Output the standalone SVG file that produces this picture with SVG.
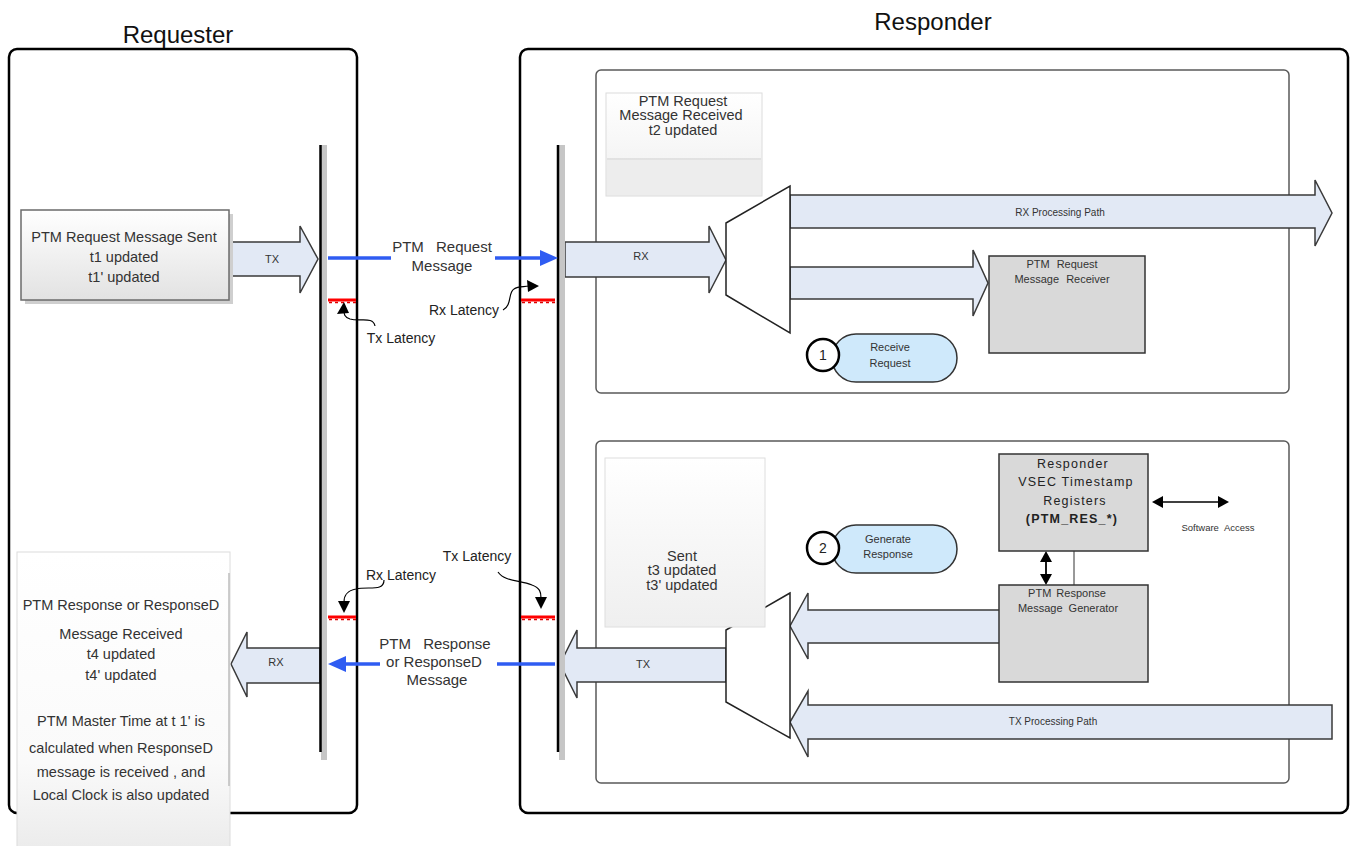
<svg xmlns="http://www.w3.org/2000/svg" width="1351" height="846" viewBox="0 0 1351 846">
<defs>
<linearGradient id="gSent" x1="0" y1="0" x2="0" y2="1"><stop offset="0" stop-color="#ffffff"/><stop offset="1" stop-color="#e2e2e2"/></linearGradient>
<linearGradient id="gLight" x1="0" y1="0" x2="0" y2="1"><stop offset="0" stop-color="#ffffff"/><stop offset="1" stop-color="#efefef"/></linearGradient>
<linearGradient id="gLeft" x1="0" y1="0" x2="0" y2="1"><stop offset="0" stop-color="#ffffff"/><stop offset="0.7" stop-color="#fafafa"/><stop offset="1" stop-color="#ebebeb"/></linearGradient>
</defs>
<style>
text{font-family:"Liberation Sans",Arial,sans-serif;fill:#222;text-anchor:middle}
.title{font-size:24px;fill:#111}
.big{font-size:15px;fill:#333}
.lab{font-size:14.5px;fill:#333}
.lat{font-size:14px;fill:#222}
.sm{font-size:11px;fill:#333}
.xs{font-size:10px;fill:#333}
.reg{font-size:12.5px;fill:#222;letter-spacing:1.2px}
.outer{fill:none;stroke:#000;stroke-width:2.5}
.inner{fill:none;stroke:#595959;stroke-width:1.5}
.fat{fill:#e2e9f5;stroke:#3a3a3a;stroke-width:1.5}
.grey{fill:#d9d9d9;stroke:#333;stroke-width:1.5}
.pill{fill:#cfe9fb;stroke:#333;stroke-width:1.5}
.num{fill:#fff;stroke:#000;stroke-width:2.5}
.blue{stroke:#2f5cf2;stroke-width:3.5;fill:none}
.red{stroke:#ff0000;stroke-width:3}
.redd{stroke:#e00000;stroke-width:1.5;stroke-dasharray:3 3}
.curve{fill:none;stroke:#000;stroke-width:1.2}
.bar{fill:#c6c6c6}
.barl{stroke:#000;stroke-width:2.5}
</style>

<g id="requester">
<rect class="outer" x="9" y="49" width="348" height="764" rx="8"/>
<text class="title" x="178" y="43">Requester</text>
</g>
<g id="responder">
<rect class="outer" x="520" y="49" width="828" height="764" rx="8"/>
<text class="title" x="933" y="30">Responder</text>
</g>
<g id="rx-section">
<rect class="inner" x="596" y="70" width="693" height="323" rx="5"/>
</g>
<g id="tx-section">
<rect class="inner" x="596" y="441" width="693" height="342" rx="5"/>
</g>

<g id="connectors">
<polygon class="fat" points="229,242 300,242 300,226 318,259 300,293 300,276 229,276"/>
<text class="sm" x="272" y="263">TX</text>
<polygon class="fat" points="565,242 709,242 709,226 726,260 709,293 709,277 565,277"/>
<text class="sm" x="641" y="260">RX</text>
<polygon class="fat" points="790,195 1315,195 1315,180 1332,213 1315,246 1315,228 790,228"/>
<text class="xs" x="1060" y="216">RX Processing  Path</text>
<polygon class="fat" points="790,267 973,267 973,250 988,283 973,316 973,299 790,299"/>
<polygon class="fat" points="726,648 577,648 577,630 560,664 577,698 577,682 726,682"/>
<text class="sm" x="643" y="668">TX</text>
<polygon class="fat" points="1000,610 808,610 808,593 790,626 808,659 808,643 1000,643"/>
<polygon class="fat" points="1332,705 808,705 808,691 790,722 808,757 808,739 1332,739"/>
<text class="xs" x="1053" y="725">TX Processing  Path</text>
<polygon class="fat" points="320,648 247,648 247,632 231,664 247,697 247,683 320,683"/>
<text class="sm" x="276" y="666">RX</text>

<rect class="bar" x="321" y="145" width="6" height="615"/>
<line class="barl" x1="320.5" y1="145" x2="320.5" y2="752"/>
<rect class="bar" x="559" y="145" width="6" height="615"/>
<line class="barl" x1="558" y1="145" x2="558" y2="752"/>

<line class="blue" x1="328" y1="258" x2="391" y2="258"/>
<line class="blue" x1="495" y1="258" x2="545" y2="258"/>
<polygon points="540,250 558,258 540,266" fill="#2f5cf2"/>
<line class="blue" x1="497" y1="664" x2="555" y2="664"/>
<line class="blue" x1="340" y1="664" x2="380" y2="664"/>
<polygon points="346,656 328,664 346,672" fill="#2f5cf2"/>

<line class="red" x1="328" y1="300" x2="356" y2="300"/>
<line class="redd" x1="329" y1="302.5" x2="356" y2="302.5"/>
<line class="red" x1="521" y1="300" x2="555" y2="300"/>
<line class="redd" x1="522" y1="302.5" x2="555" y2="302.5"/>
<line class="red" x1="328" y1="617" x2="356" y2="617"/>
<line class="redd" x1="329" y1="619.5" x2="356" y2="619.5"/>
<line class="red" x1="521" y1="617" x2="555" y2="617"/>
<line class="redd" x1="522" y1="619.5" x2="555" y2="619.5"/>

<path class="curve" d="M375,326 C373,316 360,322 350,319 C344,317 344,314 344,310"/>
<polygon points="344,302 337,314 349,313" fill="#000"/>
<path class="curve" d="M503,310 C512,306 508,292 514,289 C518,286 523,287 529,286"/>
<polygon points="539,286 527,280 528,292" fill="#000"/>
<path class="curve" d="M384,580 C384,592 368,586 356,589 C346,591 344,596 344,602"/>
<polygon points="344,613 338,601 350,601" fill="#000"/>
<path class="curve" d="M498,572 C505,582 520,580 532,585 C540,588 541,592 541,598"/>
<polygon points="541,609 535,597 547,597" fill="#000"/>

<line x1="1160" y1="502" x2="1222" y2="502" stroke="#000" stroke-width="1.5"/>
<polygon points="1152,502 1163,496 1163,508" fill="#000"/>
<polygon points="1229,502 1218,496 1218,508" fill="#000"/>
<line x1="1046" y1="558" x2="1046" y2="578" stroke="#000" stroke-width="1.8"/>
<polygon points="1046,551 1040,562 1052,562" fill="#000"/>
<polygon points="1046,585 1040,574 1052,574" fill="#000"/>
<line x1="1074" y1="551" x2="1074" y2="585" stroke="#333" stroke-width="1"/>
</g>

<g id="label-request">
<text class="big" x="442" y="252" word-spacing="8">PTM Request</text>
<text class="big" x="442" y="271">Message</text>
</g>
<g id="label-response">
<text class="big" x="435" y="649" word-spacing="8">PTM Response</text>
<text class="big" x="434" y="667">or ResponseD</text>
<text class="big" x="437" y="685">Message</text>
</g>
<g id="lat-tx1"><text class="lat" x="401" y="343">Tx Latency</text></g>
<g id="lat-rx1"><text class="lat" x="464" y="315">Rx Latency</text></g>
<g id="lat-rx2"><text class="lat" x="401" y="580">Rx Latency</text></g>
<g id="lat-tx2"><text class="lat" x="477" y="561">Tx Latency</text></g>

<g id="mux-rx">
<polygon points="726,223 790,186 790,333 726,295" fill="#fff" stroke="#222" stroke-width="1.5"/>
</g>
<g id="mux-tx">
<polygon points="790,593 726,630 726,702 790,738" fill="#fff" stroke="#222" stroke-width="1.5"/>
</g>

<g id="req-sent">
<rect x="25" y="214" width="208" height="90" fill="#cfcfcf"/>
<rect x="21" y="210" width="208" height="90" fill="url(#gSent)" stroke="#6b6b6b" stroke-width="1.5"/>
<text class="lab" x="124" y="242">PTM Request Message Sent</text>
<text class="lab" x="124" y="262">t1 updated</text>
<text class="lab" x="124" y="282">t1' updated</text>
</g>

<g id="req-received">
<rect x="606" y="93" width="156" height="103" fill="url(#gLight)" stroke="#dcdcdc" stroke-width="1"/>
<rect x="607" y="160" width="154" height="35" fill="#ededed"/>
<line x1="607" y1="159" x2="761" y2="159" stroke="#cfcfcf" stroke-width="1"/>
<text class="lab" x="683" y="106">PTM Request</text>
<text class="lab" x="681" y="120">Message Received</text>
<text class="lab" x="683" y="135">t2 updated</text>
</g>

<g id="receiver">
<rect class="grey" x="989" y="256" width="156" height="97"/>
<text class="sm" x="1062" y="268" word-spacing="4">PTM Request</text>
<text class="sm" x="1062" y="283" word-spacing="4">Message Receiver</text>
</g>

<g id="receive-request">
<rect class="pill" x="832" y="334" width="125" height="48" rx="24"/>
<circle class="num" cx="823" cy="355" r="16"/>
<text x="823" y="360" style="font-size:14px">1</text>
<text class="sm" x="890" y="351">Receive</text>
<text class="sm" x="890" y="367">Request</text>
</g>

<g id="resp-sent">
<rect x="605" y="458" width="160" height="169" fill="url(#gLight)" stroke="#dedede" stroke-width="1"/>
<text class="lab" x="682" y="561">Sent</text>
<text class="lab" x="682" y="575">t3 updated</text>
<text class="lab" x="682" y="590">t3' updated</text>
</g>

<g id="generate-response">
<rect class="pill" x="832" y="525" width="125" height="48" rx="24"/>
<circle class="num" cx="823" cy="548" r="16"/>
<text x="823" y="553" style="font-size:14px">2</text>
<text class="sm" x="888" y="543">Generate</text>
<text class="sm" x="888" y="558">Response</text>
</g>

<g id="vsec">
<rect class="grey" x="999" y="454" width="149" height="97"/>
<text class="reg" x="1073" y="468">Responder</text>
<text class="reg" x="1076" y="486">VSEC Timestamp</text>
<text class="reg" x="1075" y="505">Registers</text>
<text class="reg" x="1072" y="523" style="font-weight:bold">(PTM_RES_*)</text>
</g>

<g id="generator">
<rect class="grey" x="999" y="585" width="149" height="97"/>
<text class="sm" x="1067" y="597" word-spacing="2">PTM Response</text>
<text class="sm" x="1068" y="612" word-spacing="3">Message Generator</text>
</g>

<g id="software-access">
<text x="1218" y="531" style="font-size:9.5px;fill:#333" word-spacing="3">Software Access</text>
</g>

<g id="resp-received">
<rect x="17" y="552" width="213" height="300" fill="url(#gLeft)" stroke="#dcdcdc" stroke-width="1"/>
<line x1="229" y1="573" x2="229" y2="786" stroke="#bdbdbd" stroke-width="1.5"/>
<text class="lab" x="121" y="610">PTM Response or ResponseD</text>
<text class="lab" x="121" y="639">Message Received</text>
<text class="lab" x="121" y="659">t4 updated</text>
<text class="lab" x="121" y="680">t4' updated</text>
<text class="lab" x="121" y="726">PTM Master Time at t 1' is</text>
<text class="lab" x="121" y="753">calculated when ResponseD</text>
<text class="lab" x="121" y="777">message is received , and</text>
<text class="lab" x="121" y="800">Local Clock is also updated</text>
</g>
</svg>
